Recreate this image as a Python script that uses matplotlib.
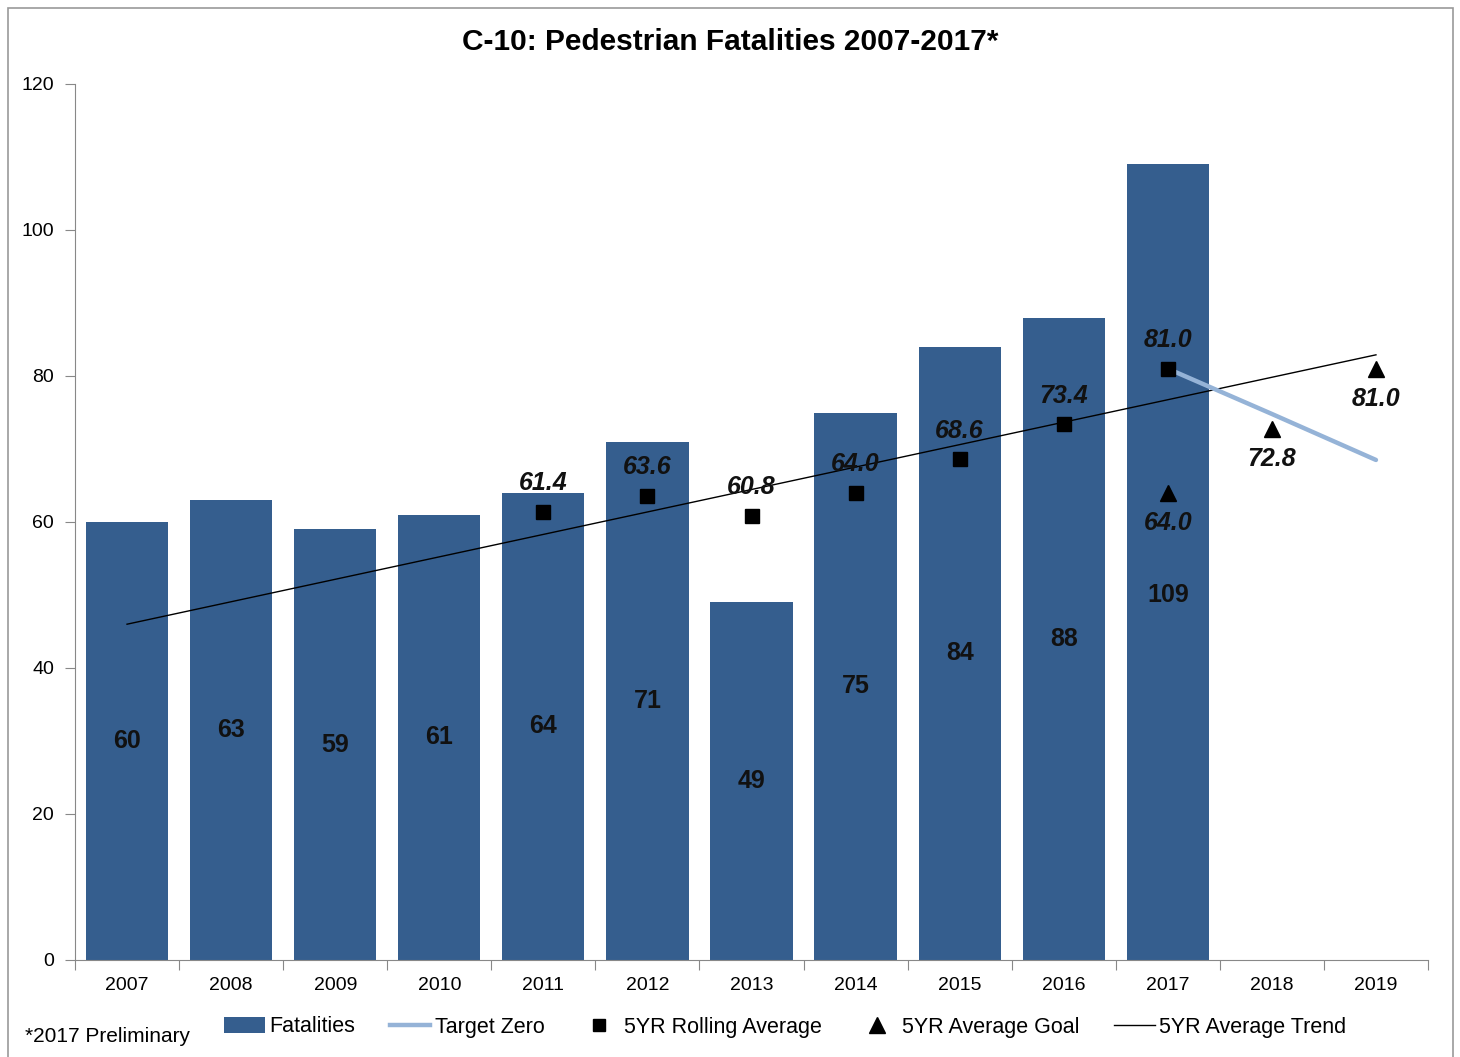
import numpy as np
import matplotlib
matplotlib.use('Agg')
import matplotlib.pyplot as plt
from matplotlib.lines import Line2D
from matplotlib.patches import Patch, Rectangle

plt.rcParams['font.family'] = ['Liberation Sans', 'DejaVu Sans']

# data
years = ['2007', '2008', '2009', '2010', '2011', '2012', '2013',
         '2014', '2015', '2016', '2017', '2018', '2019']
fatalities = [60, 63, 59, 61, 64, 71, 49, 75, 84, 88, 109]
rolling_years = ['2011', '2012', '2013', '2014', '2015', '2016', '2017']
rolling_avg = [61.4, 63.6, 60.8, 64.0, 68.6, 73.4, 81.0]
goal_years = ['2017', '2018', '2019']
goal_avg = [64.0, 72.8, 81.0]
target_years = ['2017', '2018', '2019']
target_zero = [81.0, 74.8, 68.5]
trend_years = ['2007', '2019']
trend_vals = [46.0, 82.9]

BAR_COLOR = '#355E8E'
TARGET_COLOR = '#95B3D7'

xpos = {y: i for i, y in enumerate(years)}

fig = plt.figure(figsize=(14.6, 10.57), dpi=100)
ax = fig.add_axes([75 / 1460, 1 - 960 / 1057, (1428 - 75) / 1460, (960 - 84) / 1057])

xb = [xpos[y] for y in years[:len(fatalities)]]
ax.bar(xb, fatalities, width=0.79, color=BAR_COLOR, zorder=1)
for x, v in zip(xb, fatalities):
    # Excel centres labels; the 2017 one was nudged down under the goal label
    ax.text(x, min(v / 2, 50), str(v), ha='center', va='center',
            fontsize=18, fontweight='bold', color='#111111', zorder=5)

xt = [xpos[y] for y in trend_years]
ax.plot(xt, trend_vals, color='black', lw=1.0, zorder=2)

xz = [xpos[y] for y in target_years]
ax.plot(xz, target_zero, color=TARGET_COLOR, lw=3.2, solid_capstyle='round', zorder=2)

xr = [xpos[y] for y in rolling_years]
ax.plot(xr, rolling_avg, ls='none', marker='s', ms=10, color='black', zorder=4)
for x, v in zip(xr, rolling_avg):
    ax.annotate('%.1f' % v, (x, v), xytext=(0, 12), textcoords='offset points',
                ha='center', va='bottom', fontsize=18, fontweight='bold',
                fontstyle='italic', color='#111111', zorder=5)

xg = [xpos[y] for y in goal_years]
ax.plot(xg, goal_avg, ls='none', marker='^', ms=12, color='black', zorder=4)
for x, v in zip(xg, goal_avg):
    ax.annotate('%.1f' % v, (x, v), xytext=(0, -13), textcoords='offset points',
                ha='center', va='top', fontsize=18, fontweight='bold',
                fontstyle='italic', color='#111111', zorder=5)

ax.set_xlim(-0.5, len(years) - 0.5)
ax.set_ylim(0, 120)
ax.set_yticks(np.arange(0, 121, 20))
ax.set_xticks(np.arange(-0.5, len(years), 1))
ax.set_xticklabels([])
ax.set_xticks(np.arange(len(years)), minor=True)
ax.set_xticklabels(years, minor=True)
ax.tick_params(axis='x', which='major', length=7, color='#888888', direction='out')
ax.tick_params(axis='x', which='minor', length=0, pad=12, labelsize=14)
ax.tick_params(axis='y', length=7, color='#888888', labelsize=14, pad=8)
for s in ['top', 'right']:
    ax.spines[s].set_visible(False)
for s in ['left', 'bottom']:
    ax.spines[s].set_color('#888888')

fig.text(0.5, 1 - 42 / 1057, 'C-10: Pedestrian Fatalities 2007-2017*', ha='center', va='center',
         fontsize=21.5, fontweight='bold')

fig.text(25 / 1460, 1 - 1037 / 1057, '*2017 Preliminary', ha='left', va='center', fontsize=15)

handles = [
    Patch(facecolor=BAR_COLOR),
    Line2D([], [], color=TARGET_COLOR, lw=3.2),
    Line2D([], [], ls='none', marker='s', ms=9, color='black'),
    Line2D([], [], ls='none', marker='^', ms=11, color='black'),
    Line2D([], [], color='black', lw=1.0),
]
labels = ['Fatalities', 'Target Zero', '5YR Rolling Average', '5YR Average Goal', '5YR Average Trend']
fig.legend(handles, labels, loc='center left', bbox_to_anchor=(224 / 1460, 1 - 1027 / 1057),
           ncol=5, frameon=False, fontsize=15.5, handlelength=1.9, handletextpad=0.2,
           columnspacing=1.6, borderaxespad=0, borderpad=0)

fig.add_artist(Rectangle((8 / 1460, -0.01), (1453 - 8) / 1460, 1 - 8 / 1057 + 0.01,
                         transform=fig.transFigure, fill=False, edgecolor='#999999', lw=1.2))

fig.savefig('out.png', dpi=100)
